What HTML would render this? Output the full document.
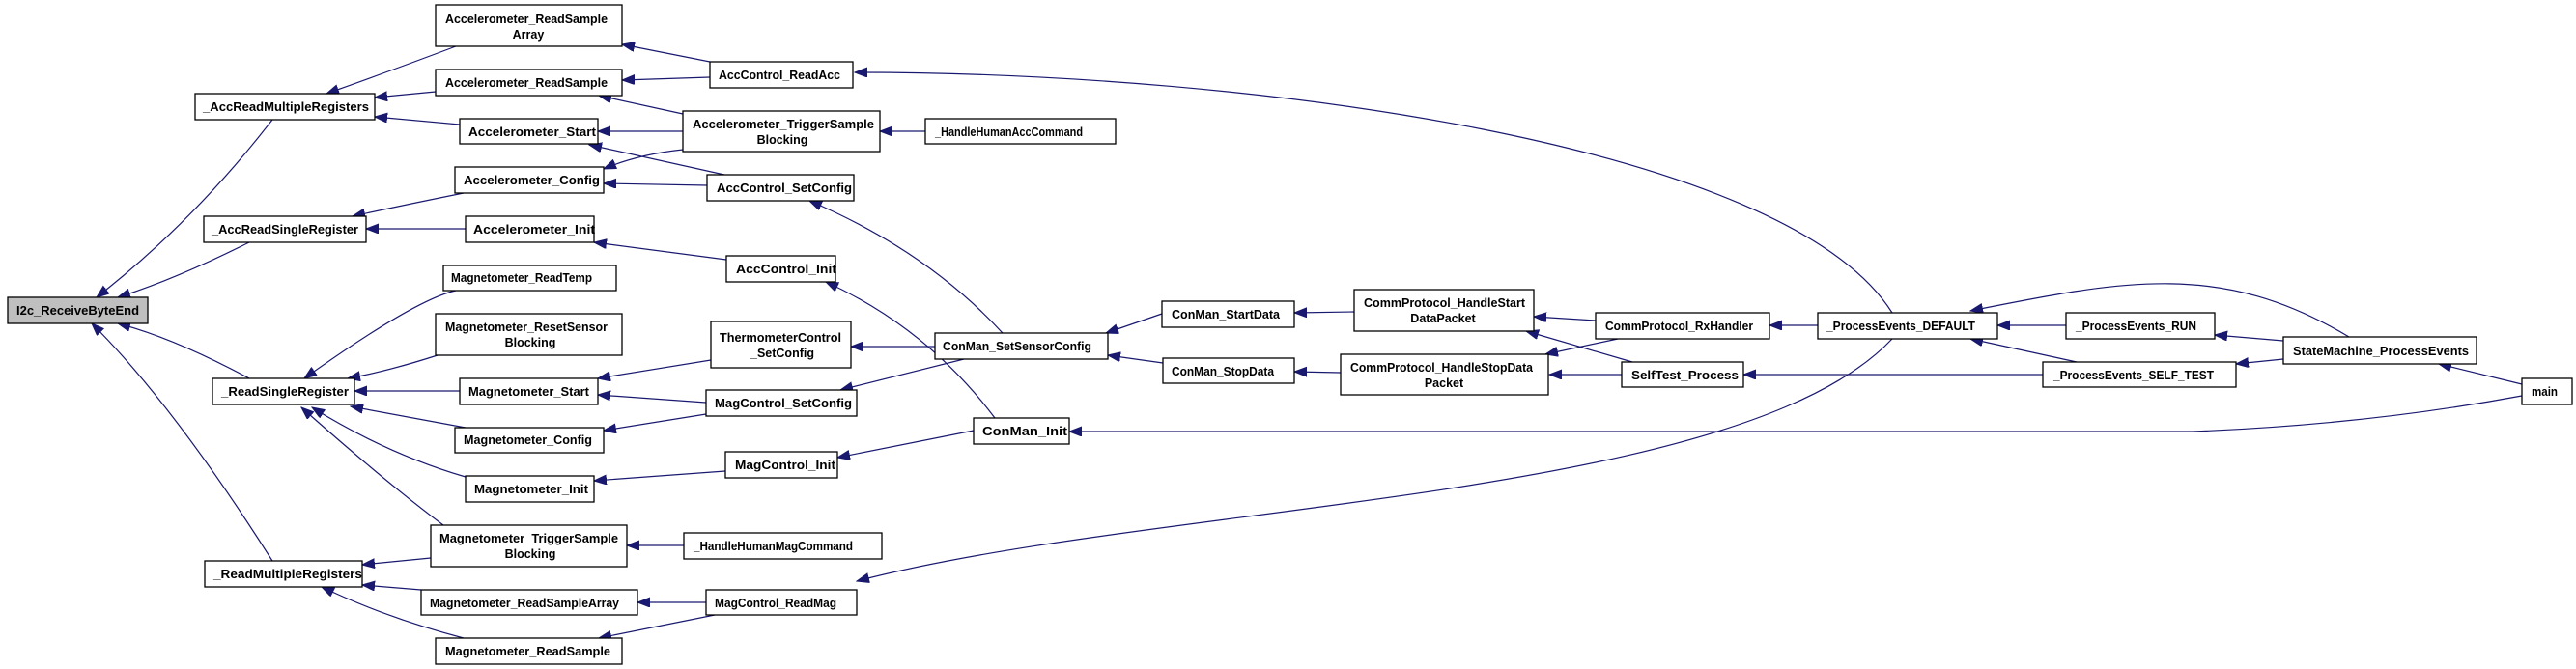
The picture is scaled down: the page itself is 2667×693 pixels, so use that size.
<!DOCTYPE html>
<html><head><meta charset="utf-8"><style>
html,body{margin:0;padding:0;background:#fff;}
svg{display:block;}
text{font-family:"Liberation Sans",sans-serif;font-size:12.5px;font-weight:bold;fill:#000;}
.e{fill:none;stroke:#191970;stroke-width:1.2;}
rect{fill:#fff;stroke:#000;stroke-width:1.3;}
</style></head><body>
<svg width="2667" height="693" viewBox="0 0 2667 693" xmlns="http://www.w3.org/2000/svg">
<defs><marker id="a" markerUnits="userSpaceOnUse" markerWidth="14" markerHeight="12" refX="13" refY="5" orient="auto"><path d="M0,0 L13,5 L0,10 Z" fill="#191970" stroke="#191970"/></marker></defs>
<g marker-end="url(#a)">
<path class="e" d="M282,124 Q200,230 100,308"/>
<path class="e" d="M258,251 Q180,290 122,308"/>
<path class="e" d="M258,392 Q180,350 122,335"/>
<path class="e" d="M282,581 Q180,420 95,335"/>
<path class="e" d="M472,48 Q400,75 338,97"/>
<path class="e" d="M451,95 L388,101"/>
<path class="e" d="M476,129 L388,121"/>
<path class="e" d="M480,200 Q420,212 365,224"/>
<path class="e" d="M482,237 L379,237"/>
<path class="e" d="M472,301 Q430,310 315,392"/>
<path class="e" d="M453,368 Q400,385 360,392"/>
<path class="e" d="M476,405 L367,405"/>
<path class="e" d="M482,443 L363,421"/>
<path class="e" d="M482,494 Q400,470 323,422"/>
<path class="e" d="M459,544 Q400,500 312,422"/>
<path class="e" d="M446,578 L375,585"/>
<path class="e" d="M436,611 L375,606"/>
<path class="e" d="M480,661 Q400,640 333,608"/>
<path class="e" d="M735,64 L644,46"/>
<path class="e" d="M735,80 L644,83"/>
<path class="e" d="M1959,324 C1850,150 1300,75 885,75"/>
<path class="e" d="M707,118 L620,99"/>
<path class="e" d="M707,136 L619,136"/>
<path class="e" d="M707,155 Q660,160 625,175"/>
<path class="e" d="M958,136 L911,136"/>
<path class="e" d="M750,181 L610,150"/>
<path class="e" d="M732,192 L625,190"/>
<path class="e" d="M1038,345 Q960,260 838,208"/>
<path class="e" d="M752,269 L615,251"/>
<path class="e" d="M1030,433 Q960,340 855,292"/>
<path class="e" d="M736,373 L619,392"/>
<path class="e" d="M968,359 L881,359"/>
<path class="e" d="M731,417 L619,409"/>
<path class="e" d="M731,429 L625,446"/>
<path class="e" d="M998,372 L870,404"/>
<path class="e" d="M751,488 L615,498"/>
<path class="e" d="M1008,446 L867,474"/>
<path class="e" d="M731,624 L660,624"/>
<path class="e" d="M740,637 L620,661"/>
<path class="e" d="M708,565 L649,565"/>
<path class="e" d="M1959,351 C1800,520 1200,520 887,602"/>
<path class="e" d="M1203,325 L1145,345"/>
<path class="e" d="M1204,376 L1147,368"/>
<path class="e" d="M1402,323 L1340,324"/>
<path class="e" d="M1388,386 L1340,385"/>
<path class="e" d="M1652,332 L1588,328"/>
<path class="e" d="M1675,351 L1600,367"/>
<path class="e" d="M1690,375 L1580,343"/>
<path class="e" d="M1679,388 L1604,388"/>
<path class="e" d="M1882,337 L1832,337"/>
<path class="e" d="M2139,337 L2068,337"/>
<path class="e" d="M2150,375 L2040,351"/>
<path class="e" d="M2115,388 L1805,388"/>
<path class="e" d="M2432,349 C2300,270 2200,290 2040,322"/>
<path class="e" d="M2364,353 L2293,347"/>
<path class="e" d="M2364,372 L2315,377"/>
<path class="e" d="M2611,398 L2525,377"/>
<path class="e" d="M2611,410 Q2450,440 2270,447 L1107,447"/>
</g>
<rect x="8" y="308" width="145" height="27" style="fill:#bfbfbf"/><text x="17" y="326" textLength="127" lengthAdjust="spacingAndGlyphs">I2c_ReceiveByteEnd</text>
<rect x="202" y="97" width="186" height="27"/><text x="210" y="115" textLength="172" lengthAdjust="spacingAndGlyphs">_AccReadMultipleRegisters</text>
<rect x="211" y="224" width="168" height="27"/><text x="219" y="242" textLength="152" lengthAdjust="spacingAndGlyphs">_AccReadSingleRegister</text>
<rect x="220" y="392" width="147" height="27"/><text x="229" y="410" textLength="132" lengthAdjust="spacingAndGlyphs">_ReadSingleRegister</text>
<rect x="212" y="581" width="163" height="27"/><text x="221" y="599" textLength="154" lengthAdjust="spacingAndGlyphs">_ReadMultipleRegisters</text>
<rect x="451" y="5" width="193" height="43"/><text x="461" y="24" textLength="168" lengthAdjust="spacingAndGlyphs">Accelerometer_ReadSample</text><text x="547" y="40" text-anchor="middle">Array</text>
<rect x="451" y="72" width="193" height="27"/><text x="461" y="90" textLength="168" lengthAdjust="spacingAndGlyphs">Accelerometer_ReadSample</text>
<rect x="476" y="123" width="143" height="26"/><text x="485" y="141" textLength="132" lengthAdjust="spacingAndGlyphs">Accelerometer_Start</text>
<rect x="471" y="173" width="154" height="27"/><text x="480" y="191" textLength="141" lengthAdjust="spacingAndGlyphs">Accelerometer_Config</text>
<rect x="482" y="224" width="133" height="27"/><text x="490" y="242" textLength="126" lengthAdjust="spacingAndGlyphs">Accelerometer_Init</text>
<rect x="459" y="275" width="179" height="26"/><text x="467" y="292" textLength="146" lengthAdjust="spacingAndGlyphs">Magnetometer_ReadTemp</text>
<rect x="451" y="325" width="193" height="43"/><text x="461" y="343" textLength="168" lengthAdjust="spacingAndGlyphs">Magnetometer_ResetSensor</text><text x="549" y="359" text-anchor="middle">Blocking</text>
<rect x="476" y="392" width="143" height="27"/><text x="485" y="410" textLength="125" lengthAdjust="spacingAndGlyphs">Magnetometer_Start</text>
<rect x="471" y="443" width="154" height="26"/><text x="480" y="460" textLength="133" lengthAdjust="spacingAndGlyphs">Magnetometer_Config</text>
<rect x="482" y="493" width="133" height="27"/><text x="491" y="511" textLength="118" lengthAdjust="spacingAndGlyphs">Magnetometer_Init</text>
<rect x="446" y="544" width="203" height="43"/><text x="455" y="562" textLength="185" lengthAdjust="spacingAndGlyphs">Magnetometer_TriggerSample</text><text x="549" y="578" text-anchor="middle">Blocking</text>
<rect x="436" y="611" width="224" height="26"/><text x="445" y="629" textLength="196" lengthAdjust="spacingAndGlyphs">Magnetometer_ReadSampleArray</text>
<rect x="451" y="661" width="193" height="27"/><text x="461" y="679" textLength="171" lengthAdjust="spacingAndGlyphs">Magnetometer_ReadSample</text>
<rect x="735" y="64" width="148" height="27"/><text x="744" y="82" textLength="126" lengthAdjust="spacingAndGlyphs">AccControl_ReadAcc</text>
<rect x="707" y="115" width="204" height="42"/><text x="717" y="133" textLength="188" lengthAdjust="spacingAndGlyphs">Accelerometer_TriggerSample</text><text x="810" y="149" text-anchor="middle">Blocking</text>
<rect x="732" y="181" width="152" height="27"/><text x="742" y="199" textLength="140" lengthAdjust="spacingAndGlyphs">AccControl_SetConfig</text>
<rect x="752" y="265" width="113" height="27"/><text x="762" y="283" textLength="104" lengthAdjust="spacingAndGlyphs">AccControl_Init</text>
<rect x="958" y="123" width="197" height="26"/><text x="968" y="141" textLength="153" lengthAdjust="spacingAndGlyphs">_HandleHumanAccCommand</text>
<rect x="736" y="333" width="145" height="48"/><text x="745" y="354" textLength="126" lengthAdjust="spacingAndGlyphs">ThermometerControl</text><text x="810" y="370" text-anchor="middle">_SetConfig</text>
<rect x="731" y="404" width="156" height="27"/><text x="740" y="422" textLength="142" lengthAdjust="spacingAndGlyphs">MagControl_SetConfig</text>
<rect x="751" y="468" width="116" height="27"/><text x="761" y="486" textLength="104" lengthAdjust="spacingAndGlyphs">MagControl_Init</text>
<rect x="708" y="552" width="205" height="27"/><text x="718" y="570" textLength="165" lengthAdjust="spacingAndGlyphs">_HandleHumanMagCommand</text>
<rect x="731" y="611" width="156" height="26"/><text x="740" y="629" textLength="126" lengthAdjust="spacingAndGlyphs">MagControl_ReadMag</text>
<rect x="968" y="345" width="179" height="27"/><text x="976" y="363" textLength="154" lengthAdjust="spacingAndGlyphs">ConMan_SetSensorConfig</text>
<rect x="1008" y="433" width="99" height="27"/><text x="1017" y="451" textLength="88" lengthAdjust="spacingAndGlyphs">ConMan_Init</text>
<rect x="1203" y="312" width="137" height="27"/><text x="1213" y="330" textLength="112" lengthAdjust="spacingAndGlyphs">ConMan_StartData</text>
<rect x="1204" y="371" width="136" height="26"/><text x="1213" y="389" textLength="106" lengthAdjust="spacingAndGlyphs">ConMan_StopData</text>
<rect x="1402" y="300" width="186" height="43"/><text x="1412" y="318" textLength="167" lengthAdjust="spacingAndGlyphs">CommProtocol_HandleStart</text><text x="1494" y="334" text-anchor="middle">DataPacket</text>
<rect x="1388" y="367" width="215" height="42"/><text x="1398" y="385" textLength="189" lengthAdjust="spacingAndGlyphs">CommProtocol_HandleStopData</text><text x="1495" y="401" text-anchor="middle">Packet</text>
<rect x="1652" y="324" width="180" height="27"/><text x="1662" y="342" textLength="153" lengthAdjust="spacingAndGlyphs">CommProtocol_RxHandler</text>
<rect x="1679" y="375" width="126" height="26"/><text x="1689" y="393" textLength="111" lengthAdjust="spacingAndGlyphs">SelfTest_Process</text>
<rect x="1882" y="324" width="186" height="27"/><text x="1891" y="342" textLength="154" lengthAdjust="spacingAndGlyphs">_ProcessEvents_DEFAULT</text>
<rect x="2139" y="324" width="154" height="27"/><text x="2149" y="342" textLength="125" lengthAdjust="spacingAndGlyphs">_ProcessEvents_RUN</text>
<rect x="2115" y="375" width="200" height="26"/><text x="2126" y="393" textLength="166" lengthAdjust="spacingAndGlyphs">_ProcessEvents_SELF_TEST</text>
<rect x="2364" y="349" width="200" height="28"/><text x="2374" y="368" textLength="182" lengthAdjust="spacingAndGlyphs">StateMachine_ProcessEvents</text>
<rect x="2611" y="392" width="52" height="27"/><text x="2621" y="410" textLength="27" lengthAdjust="spacingAndGlyphs">main</text>
</svg>
</body></html>
